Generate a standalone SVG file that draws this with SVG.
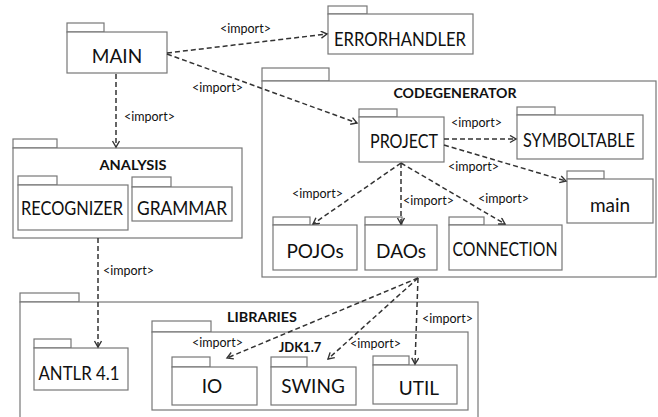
<svg xmlns="http://www.w3.org/2000/svg" width="658" height="417" viewBox="0 0 658 417">
<style>
.pk{fill:#fff;stroke:#777;stroke-width:1.2}
.nm{font-family:Lato,"Liberation Sans",sans-serif;font-size:19px;fill:#111;text-anchor:middle}
.tt{font-family:Lato,"Liberation Sans",sans-serif;font-size:14px;font-weight:bold;fill:#111;text-anchor:middle}
.lb{font-family:Lato,"Liberation Sans",sans-serif;font-size:12.5px;fill:#111}
.cn{fill:none;stroke:#333;stroke-width:1.5;stroke-dasharray:5 3;marker-end:url(#ah)}
</style>
<defs>
<marker id="ah" markerUnits="userSpaceOnUse" markerWidth="9" markerHeight="9" refX="7" refY="4" orient="auto">
<path d="M1,0.5 L7,4 L1,7.5" fill="none" stroke="#333" stroke-width="1.4"/>
</marker>
</defs>

<g id="main-pkg">
<rect class="pk" x="67" y="23" width="37" height="9"/>
<rect class="pk" x="67" y="32" width="100" height="41"/>
<text class="nm" x="117" y="63">MAIN</text>
</g>
<g id="errorhandler">
<rect class="pk" x="328" y="6" width="39" height="8"/>
<rect class="pk" x="328" y="14" width="145" height="40"/>
<text class="nm" x="400" y="46" textLength="132" lengthAdjust="spacingAndGlyphs">ERRORHANDLER</text>
</g>

<g id="codegenerator">
<rect class="pk" x="262" y="68" width="67" height="13"/>
<rect class="pk" x="262" y="81" width="394" height="196"/>
<text class="tt" x="455" y="98" textLength="123" lengthAdjust="spacingAndGlyphs">CODEGENERATOR</text>
</g>
<g id="project">
<rect class="pk" x="359" y="109" width="38" height="8"/>
<rect class="pk" x="359" y="117" width="85" height="45"/>
<text class="nm" x="404" y="148" textLength="68" lengthAdjust="spacingAndGlyphs">PROJECT</text>
</g>
<g id="symboltable">
<rect class="pk" x="517" y="107" width="38" height="8"/>
<rect class="pk" x="517" y="115" width="126" height="44"/>
<text class="nm" x="579" y="147" textLength="112" lengthAdjust="spacingAndGlyphs">SYMBOLTABLE</text>
</g>
<g id="main-sub">
<rect class="pk" x="567" y="171" width="37" height="8"/>
<rect class="pk" x="567" y="179" width="86" height="44"/>
<text class="nm" x="610" y="212">main</text>
</g>
<g id="pojos">
<rect class="pk" x="273" y="217" width="37" height="8"/>
<rect class="pk" x="273" y="225" width="84" height="45"/>
<text class="nm" x="315" y="258">POJOs</text>
</g>
<g id="daos">
<rect class="pk" x="365" y="217" width="37" height="8"/>
<rect class="pk" x="365" y="225" width="72" height="45"/>
<text class="nm" x="401" y="258">DAOs</text>
</g>
<g id="connection">
<rect class="pk" x="449" y="217" width="35" height="8"/>
<rect class="pk" x="449" y="225" width="113" height="45"/>
<text class="nm" x="505" y="256" textLength="105" lengthAdjust="spacingAndGlyphs">CONNECTION</text>
</g>

<g id="analysis">
<rect class="pk" x="13" y="139" width="44" height="9"/>
<rect class="pk" x="13" y="148" width="229" height="90"/>
<text class="tt" x="133" y="170" textLength="67" lengthAdjust="spacingAndGlyphs">ANALYSIS</text>
</g>
<g id="recognizer">
<rect class="pk" x="18" y="176" width="39" height="9"/>
<rect class="pk" x="18" y="185" width="110" height="45"/>
<text class="nm" x="72" y="215" textLength="102" lengthAdjust="spacingAndGlyphs">RECOGNIZER</text>
</g>
<g id="grammar">
<rect class="pk" x="132" y="177" width="39" height="10"/>
<rect class="pk" x="132" y="187" width="100" height="34"/>
<text class="nm" x="182" y="215" textLength="90" lengthAdjust="spacingAndGlyphs">GRAMMAR</text>
</g>

<g id="libraries-outer">
<rect class="pk" x="20" y="293" width="59" height="9"/>
<rect class="pk" x="20" y="302" width="458" height="130"/>
<text class="tt" x="262" y="322" textLength="70" lengthAdjust="spacingAndGlyphs">LIBRARIES</text>
</g>
<g id="antlr">
<rect class="pk" x="34" y="339" width="37" height="9"/>
<rect class="pk" x="34" y="348" width="94" height="42"/>
<text class="nm" x="79" y="380" textLength="81" lengthAdjust="spacingAndGlyphs">ANTLR 4.1</text>
</g>
<g id="jdk">
<rect class="pk" x="152" y="321" width="59" height="11"/>
<rect class="pk" x="152" y="332" width="316" height="78"/>
<text class="tt" x="300" y="352" style="font-size:13px">JDK1.7</text>
</g>
<g id="io">
<rect class="pk" x="172" y="357" width="38" height="10"/>
<rect class="pk" x="172" y="367" width="85" height="38"/>
<text class="nm" x="212" y="393">IO</text>
</g>
<g id="swing">
<rect class="pk" x="271" y="357" width="36" height="10"/>
<rect class="pk" x="271" y="367" width="85" height="38"/>
<text class="nm" x="313" y="393">SWING</text>
</g>
<g id="util">
<rect class="pk" x="373" y="356" width="36" height="9"/>
<rect class="pk" x="373" y="365" width="84" height="39"/>
<text class="nm" x="419" y="395">UTIL</text>
</g>

<g id="connectors">
<path class="cn" d="M167,53 L327,34"/>
<path class="cn" d="M167,54 L357,123"/>
<path class="cn" d="M116,74 L116,147"/>
<path class="cn" d="M444,139 L516,139"/>
<path class="cn" d="M444,145 L566,181"/>
<path class="cn" d="M401,163 L313,224"/>
<path class="cn" d="M401,163 L401,224"/>
<path class="cn" d="M401,163 L505,224"/>
<path class="cn" d="M98,238 L98,347"/>
<path class="cn" d="M418,278 L227,358"/>
<path class="cn" d="M418,278 L328,359"/>
<path class="cn" d="M418,278 L415,364"/>
<text class="lb" x="220" y="33">&lt;import&gt;</text>
<text class="lb" x="192" y="92">&lt;import&gt;</text>
<text class="lb" x="124" y="121">&lt;import&gt;</text>
<text class="lb" x="451" y="127">&lt;import&gt;</text>
<text class="lb" x="448" y="171">&lt;import&gt;</text>
<text class="lb" x="292" y="198">&lt;import&gt;</text>
<text class="lb" x="403" y="205">&lt;import&gt;</text>
<text class="lb" x="478" y="203">&lt;import&gt;</text>
<text class="lb" x="103" y="275">&lt;import&gt;</text>
<text class="lb" x="422" y="323">&lt;import&gt;</text>
<text class="lb" x="192" y="347">&lt;import&gt;</text>
<text class="lb" x="350" y="348">&lt;import&gt;</text>
</g>
</svg>
